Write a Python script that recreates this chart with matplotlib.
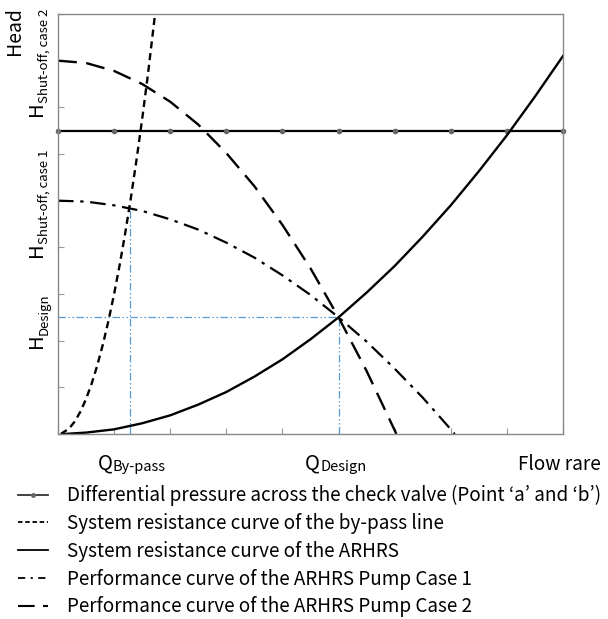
import matplotlib.pyplot as plt
from matplotlib.lines import Line2D

plt.rcParams["font.family"] = ["Noto Sans CJK KR", "DejaVu Sans"]

# differential pressure across the check valve (flat line with point markers)
dp_q = [0, 1, 2, 3, 4, 5, 6, 7, 8, 9]
dp_h = [6.5, 6.5, 6.5, 6.5, 6.5, 6.5, 6.5, 6.5, 6.5, 6.5]

# system resistance curve of the by-pass line
bypass_q = [0.05, 0.2, 0.3, 0.4, 0.5, 0.6, 0.7, 0.8, 0.9, 1.0, 1.1, 1.2, 1.3, 1.4, 1.5, 1.6, 1.73]
bypass_h = [0.0, 0.12, 0.27, 0.48, 0.75, 1.08, 1.47, 1.92, 2.43, 3.0, 3.63, 4.32, 5.07, 5.88, 6.75, 7.68, 9.0]

# system resistance curve of the ARHRS
arhrs_q = [0.1, 0.5, 1.0, 1.5, 2.0, 2.5, 3.0, 3.5, 4.0, 4.5, 5.0, 5.5, 6.0, 6.5, 7.0, 7.5, 8.0, 8.5, 9.0]
arhrs_h = [0.0, 0.03, 0.1, 0.23, 0.4, 0.63, 0.9, 1.23, 1.6, 2.03, 2.5, 3.03, 3.6, 4.23, 4.9, 5.63, 6.4, 7.23, 8.1]

# pump performance curve, case 1
case1_q = [0, 0.5, 1.0, 1.5, 2.0, 2.5, 3.0, 3.5, 4.0, 4.5, 5.0, 5.5, 6.0, 6.5, 7.0, 7.07]
case1_h = [5.0, 4.98, 4.9, 4.78, 4.6, 4.38, 4.1, 3.78, 3.4, 2.98, 2.5, 1.98, 1.4, 0.78, 0.1, 0.0]

# pump performance curve, case 2
case2_q = [0, 0.5, 1.0, 1.5, 2.0, 2.5, 3.0, 3.5, 4.0, 4.5, 5.0, 5.5, 6.0, 6.03]
case2_h = [8.0, 7.95, 7.78, 7.5, 7.12, 6.63, 6.02, 5.31, 4.48, 3.55, 2.5, 1.35, 0.08, 0.0]

q_design, h_design = 5.0, 2.5
q_bypass, h_bypass = 1.29, 4.83

legend_labels = [
    "Differential pressure across the check valve (Point \u2018a\u2019 and \u2018b\u2019)",
    "System resistance curve of the by-pass line",
    "System resistance curve of the ARHRS",
    "Performance curve of the ARHRS Pump Case 1",
    "Performance curve of the ARHRS Pump Case 2",
]

W, H = 608, 619
fig = plt.figure(figsize=(W / 100, H / 100), dpi=100)
ax = fig.add_axes([58 / W, 1 - 434 / H, 505 / W, 420 / H])
ax.set_xlim(0, 9)
ax.set_ylim(0, 9)

blue = "#5b9bd5"
dashdotdot = (0, (6, 2, 1.2, 2, 1.2, 2))
ax.plot([0, q_design], [h_design, h_design], color=blue, lw=0.9, ls=dashdotdot)
ax.plot([q_design, q_design], [0, h_design], color=blue, lw=0.9, ls=dashdotdot)
ax.plot([q_bypass, q_bypass], [0, h_bypass], color=blue, lw=0.9, ls=dashdotdot)

ls_bypass = (0, (3, 2))
ls_case1 = (0, (7, 3, 1.5, 3))
ls_case2 = (0, (8, 4))

ax.plot(dp_q, dp_h, color="black", lw=1.6, marker="o", ms=3,
        mfc="#666666", mec="#666666", clip_on=False)
ax.plot(bypass_q, bypass_h, color="black", lw=1.7, ls=ls_bypass)
ax.plot(arhrs_q, arhrs_h, color="black", lw=1.7)
ax.plot(case1_q, case1_h, color="black", lw=1.6, ls=ls_case1)
ax.plot(case2_q, case2_h, color="black", lw=1.7, ls=ls_case2)

for s in ax.spines.values():
    s.set_color("#888888")
    s.set_linewidth(1.0)
ax.set_xticks(range(10))
ax.set_yticks(range(10))
ax.tick_params(direction="in", length=4, color="#999999", labelleft=False, labelbottom=False)


def px(x, y):
    return x / W, 1 - y / H


# y-axis labels
fig.text(*px(15, 55), "Head", rotation=90, ha="center", va="bottom", fontsize=14)
for y0, sub in [(116, "Shut-off, case 2"), (257, "Shut-off, case 1"), (348, "Design")]:
    fig.text(*px(37, y0), "H", rotation=90, ha="center", va="bottom", fontsize=14.5)
    fig.text(*px(44, y0 - 13), sub, rotation=90, ha="center", va="bottom", fontsize=9.5)

# x-axis labels
for x0, sub in [(98, "By-pass"), (305, "Design")]:
    fig.text(*px(x0, 468), "Q", ha="left", va="baseline", fontsize=14.5)
    fig.text(*px(x0 + 15, 471), sub, ha="left", va="baseline", fontsize=10.5)
fig.text(*px(518, 470), "Flow rare", ha="left", va="baseline", fontsize=13.7)

handles = [
    Line2D([], [], color="#333333", lw=1.3, marker="o", ms=2.5, mfc="#666666", mec="#666666"),
    Line2D([], [], color="black", lw=1.3, ls=(0, (2.5, 1.5))),
    Line2D([], [], color="black", lw=1.3),
    Line2D([], [], color="black", lw=1.3, ls=(0, (4, 3, 1.2, 3))),
    Line2D([], [], color="black", lw=1.5, ls=(0, (8, 4))),
]
fig.legend(handles, legend_labels, loc="upper left", bbox_to_anchor=px(18, 485),
           frameon=False, fontsize=13.6, handlelength=1.6, handletextpad=1.0,
           labelspacing=0.36, numpoints=1, borderpad=0, borderaxespad=0)

fig.savefig("out.png", dpi=100)
